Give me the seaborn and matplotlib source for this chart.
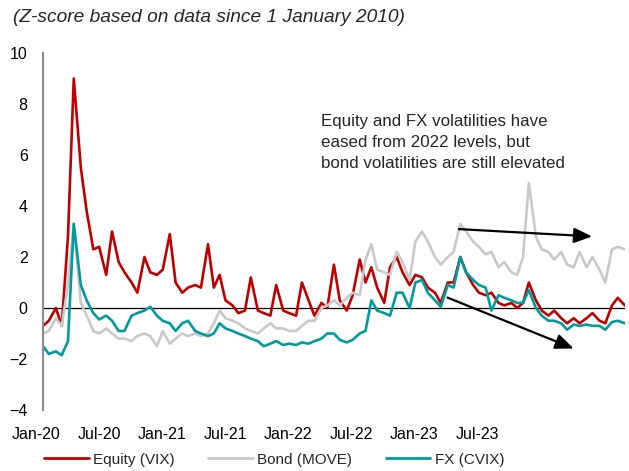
import pandas as pd
import matplotlib
matplotlib.use("Agg")
import matplotlib.pyplot as plt
import matplotlib.dates as mdates
from matplotlib.lines import Line2D
from matplotlib.transforms import ScaledTranslation
import seaborn as sns

# semi-monthly readings, Jan 2020 - Nov 2023 (z-scores)
dates = pd.date_range("2020-01-01", "2023-11-01", freq="SMS")

equity = [-0.7, -0.5, 0.0, -0.7, 2.8, 9.0, 5.5, 3.8, 2.3, 2.4,
          1.3, 3.0, 1.8, 1.4, 1.0, 0.6, 2.0, 1.4, 1.3, 1.5,
          2.9, 1.0, 0.6, 0.8, 0.9, 0.8, 2.5, 0.8, 1.3, 0.3,
          0.1, -0.2, -0.1, 1.2, -0.1, -0.2, -0.3, 0.9, -0.1, -0.2,
          -0.3, 1.0, 0.3, -0.3, 0.2, 0.0, 1.7, 0.3, -0.1, 0.5,
          1.9, 1.0, 1.6, 0.8, 0.2, 1.6, 2.0, 1.4, 0.9, 1.3,
          1.2, 0.8, 0.6, 0.2, 1.0, 1.0, 2.0, 1.4, 0.9, 0.6,
          0.5, 0.6, 0.2, 0.1, 0.2, 0.0, 0.2, 1.0, 0.3, -0.1,
          -0.3, -0.1, -0.4, -0.6, -0.4, -0.6, -0.4, -0.2, -0.5, -0.6,
          0.1, 0.4, 0.1]

bond = [-1.0, -0.9, -0.4, -0.7, 0.9, 3.3, 0.2, -0.3, -0.9, -1.0,
        -0.8, -1.0, -1.2, -1.2, -1.3, -1.1, -1.0, -1.1, -1.5, -0.9,
        -1.4, -1.2, -1.0, -1.1, -1.0, -1.1, -1.0, -0.6, -0.1, -0.4,
        -0.5, -0.6, -0.8, -0.9, -1.0, -0.8, -0.6, -0.8, -0.8, -0.9,
        -0.9, -0.7, -0.5, -0.5, 0.0, 0.1, 0.3, 0.1, 0.4, 0.6,
        0.5, 1.9, 2.5, 1.5, 1.4, 1.3, 2.2, 1.8, 1.1, 2.6,
        3.0, 2.6, 2.0, 1.7, 2.0, 2.2, 3.3, 3.0, 2.6, 2.4,
        2.1, 2.2, 1.6, 1.8, 1.4, 1.3, 2.0, 4.9, 2.8, 2.3,
        2.2, 1.9, 2.2, 1.7, 1.6, 2.2, 1.6, 2.0, 1.5, 1.0,
        2.3, 2.4, 2.3]

fx = [-1.5, -1.8, -1.7, -1.85, -1.3, 3.3, 0.9, 0.3, -0.2, -0.45,
      -0.3, -0.5, -0.9, -0.9, -0.3, -0.2, -0.1, 0.05, -0.3, -0.5,
      -0.6, -0.9, -0.6, -0.5, -0.9, -1.0, -1.1, -1.0, -0.6, -0.8,
      -0.9, -1.0, -1.1, -1.2, -1.3, -1.5, -1.4, -1.3, -1.45, -1.4,
      -1.45, -1.35, -1.4, -1.3, -1.2, -1.0, -1.0, -1.25, -1.35, -1.25,
      -1.0, -0.9, 0.3, -0.1, -0.2, -0.3, 0.6, 0.6, 0.0, 1.0,
      1.1, 0.6, 0.3, 0.05, 0.9, 0.8, 2.0, 1.4, 1.1, 0.9,
      0.8, -0.1, 0.5, 0.4, 0.3, 0.2, 0.2, 0.7, 0.0, -0.3,
      -0.5, -0.5, -0.6, -0.85, -0.65, -0.7, -0.65, -0.7, -0.7, -0.85,
      -0.55, -0.5, -0.6]

series_names = ["Equity (VIX)", "Bond (MOVE)", "FX (CVIX)"]
colors = ["#C00000", "#C9C9C9", "#009B9B"]
tick_labels = ["Jan-20", "Jul-20", "Jan-21", "Jul-21",
               "Jan-22", "Jul-22", "Jan-23", "Jul-23"]
note = ("Equity and FX volatilities have\n"
        "eased from 2022 levels, but\n"
        "bond volatilities are still elevated")

df = pd.DataFrame({"date": dates,
                   series_names[0]: equity,
                   series_names[1]: bond,
                   series_names[2]: fx})
df = df.melt(id_vars="date", var_name="series", value_name="z")

sns.set_style("white")
plt.rcParams["font.family"] = ["Liberation Sans", "DejaVu Sans"]

fig = plt.figure(figsize=(6.29, 4.71), dpi=100)
ax = fig.add_axes([0.0684, 0.1295, 0.925, 0.758])

ax.axhline(0, color="black", lw=0.9, zorder=1)
sns.lineplot(data=df, x="date", y="z", hue="series", hue_order=series_names,
             palette=dict(zip(series_names, colors)), linewidth=1.9,
             ax=ax, legend=False)

ax.set_xlim(dates[0], dates[-1])
ax.set_ylim(-4, 10)
ax.set_yticks(range(-4, 11, 2))
ax.set_xlabel("")
ax.set_ylabel("")

# category-style labels, evenly spaced
step = pd.Timedelta(days=151.6)
ax.set_xticks([dates[0] + k * step for k in range(len(tick_labels))])
ax.set_xticklabels(tick_labels)

ax.tick_params(axis="both", length=0, labelsize=11.5, colors="black")
ax.tick_params(axis="y", pad=11)
ax.tick_params(axis="x", pad=12)

for s in ["top", "right", "bottom"]:
    ax.spines[s].set_visible(False)
ax.spines["left"].set_color("#8C8C8C")
ax.spines["left"].set_linewidth(1.5)

ax.text(0.478, 0.83, note, transform=ax.transAxes, fontsize=12.2,
        ha="left", va="top", linespacing=1.5)

arrow = dict(arrowstyle="-|>,head_length=0.55,head_width=0.23",
             mutation_scale=20, color="black", lw=1.6)
ax.annotate("", xy=(mdates.date2num(pd.Timestamp("2023-08-21")), 2.8),
            xytext=(mdates.date2num(pd.Timestamp("2022-09-21")), 3.1),
            arrowprops=arrow)
ax.annotate("", xy=(mdates.date2num(pd.Timestamp("2023-07-07")), -1.63),
            xytext=(mdates.date2num(pd.Timestamp("2022-08-25")), 0.45),
            arrowprops=arrow)

fig.text(13 / 629, 1 - 18 / 471, "(Z-score based on data since 1 January 2010)",
         style="italic", fontsize=13.8, ha="left", va="center")

handles = [Line2D([], [], color=c, lw=2) for c in colors]
fig.legend(handles, series_names, loc="center", bbox_to_anchor=(0.436, 0.024),
           ncol=3, frameon=False, fontsize=11, handlelength=2.9,
           handletextpad=0.3, columnspacing=2.2)

# nudge x labels left, like the original layout
fig.canvas.draw()
shift = ScaledTranslation(-7 / 100, 0, fig.dpi_scale_trans)
for lab in ax.get_xticklabels():
    lab.set_transform(lab.get_transform() + shift)

fig.savefig("out.png", dpi=100)
